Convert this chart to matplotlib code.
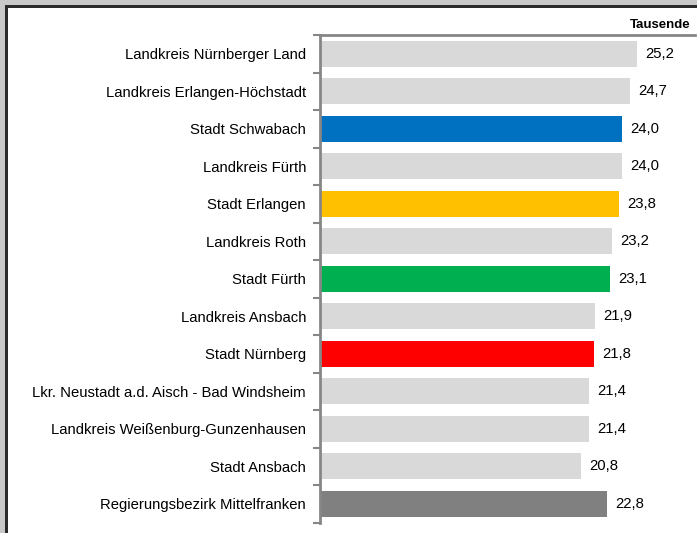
import matplotlib
matplotlib.use("Agg")
import matplotlib.pyplot as plt
from matplotlib.patches import Rectangle

plt.rcParams['font.family'] = ['Liberation Sans', 'DejaVu Sans']

categories = [
    "Landkreis Nürnberger Land",
    "Landkreis Erlangen-Höchstadt",
    "Stadt Schwabach",
    "Landkreis Fürth",
    "Stadt Erlangen",
    "Landkreis Roth",
    "Stadt Fürth",
    "Landkreis Ansbach",
    "Stadt Nürnberg",
    "Lkr. Neustadt a.d. Aisch - Bad Windsheim",
    "Landkreis Weißenburg-Gunzenhausen",
    "Stadt Ansbach",
    "Regierungsbezirk Mittelfranken",
]
values = [25.2, 24.7, 24.0, 24.0, 23.8, 23.2, 23.1, 21.9, 21.8, 21.4, 21.4, 20.8, 22.8]
colors = ["#d9d9d9", "#d9d9d9", "#0070c0", "#d9d9d9", "#ffc000", "#d9d9d9", "#00b050",
          "#d9d9d9", "#ff0000", "#d9d9d9", "#d9d9d9", "#d9d9d9", "#808080"]
unit_label = "Tausende"

W, H = 697, 533
fig = plt.figure(figsize=(W / 100, H / 100), dpi=100)
fig.patch.set_facecolor("white")

# outer frame (gray band + dark border)
fig.add_artist(Rectangle((0, 1 - 5 / H), 1, 5 / H, transform=fig.transFigure,
                         facecolor="#c8c8c8", edgecolor="none"))
fig.add_artist(Rectangle((0, 0), 5 / W, 1, transform=fig.transFigure,
                         facecolor="#c8c8c8", edgecolor="none"))
fig.add_artist(Rectangle((5 / W, 1 - 7.5 / H), 1, 2.5 / H, transform=fig.transFigure,
                         facecolor="#2a2a2a", edgecolor="none"))
fig.add_artist(Rectangle((5 / W, 0), 3 / W, 1 - 5 / H, transform=fig.transFigure,
                         facecolor="#2a2a2a", edgecolor="none"))

ax_left = 320 / W
ax_right = 697 / W
ax_top = 1 - 35 / H
ax_bottom = 1 - 522.5 / H
ax = fig.add_axes([ax_left, ax_bottom, ax_right - ax_left, ax_top - ax_bottom])

n = len(categories)
ypos = list(range(n))
ax.barh(ypos, values, height=0.69, color=colors, zorder=2)
ax.set_ylim(n - 0.5, -0.5)
ax.set_xlim(0, 30)

ax.set_yticks(ypos)
ax.set_yticklabels(categories, fontsize=10.7)
ax.tick_params(axis="y", length=0, pad=10)
ax.set_yticks([i - 0.5 for i in range(n + 1)], minor=True)
ax.tick_params(axis="y", which="minor", length=5, width=1.5, color="#868686")
ax.set_xticks([])

for s in ["right", "bottom"]:
    ax.spines[s].set_visible(False)
ax.spines["left"].set_color("#868686")
ax.spines["left"].set_linewidth(2)
ax.spines["top"].set_color("#868686")
ax.spines["top"].set_linewidth(2)
ax.spines["top"].set_bounds(0, 29.85)

for y, v in zip(ypos, values):
    ax.annotate(f"{v:.1f}".replace(".", ","), (v, y), xytext=(6, 0),
                textcoords="offset points", va="center", ha="left", fontsize=10.7)

fig.text(691 / W, 1 - 25 / H, unit_label, ha="right", va="center",
         fontsize=9.5, fontweight="bold")

fig.savefig("out.png", dpi=100)
